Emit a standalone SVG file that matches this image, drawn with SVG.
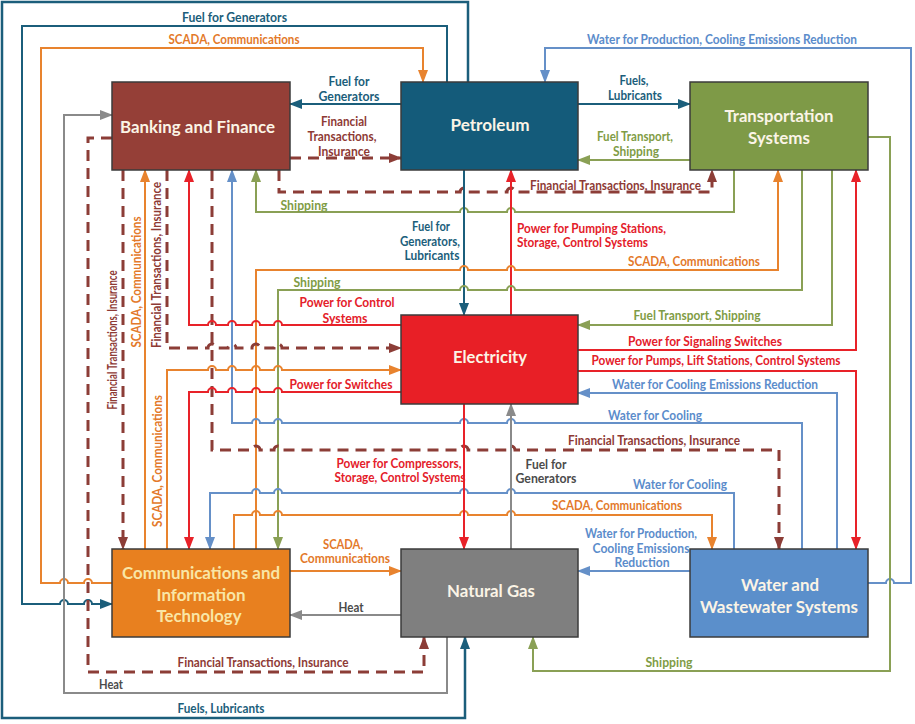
<svg xmlns="http://www.w3.org/2000/svg" width="915" height="724" viewBox="0 0 915 724">
<style>
.ln{fill:none;stroke-width:2}
.teal{stroke:#1b5e7b}
.org{stroke:#e8832e}
.gry{stroke:#8a8a8a}
.brn{stroke:#8c3d37;stroke-width:3;stroke-dasharray:11 7}
.red{stroke:#e82229}
.blu{stroke:#6590c8}
.grn{stroke:#8aa055}
text{font-family:Lato,"Liberation Sans",sans-serif;font-weight:bold}
.l{font-size:12.5px;text-anchor:middle}
.s{font-size:12.5px;text-anchor:start}
.tt{fill:#1b5e7b}.to{fill:#e3792a}.tb{fill:#8e3a35}.tr{fill:#e4202a}.tu{fill:#5b8ccb}.tg{fill:#7f9c45}.tk{fill:#4b4b4b}
.node rect{stroke:#3b3b3b;stroke-width:1.5}
.node text{font-size:17.5px;fill:#fbf4e6;text-anchor:middle}
</style>
<defs>
<marker id="aT" markerUnits="userSpaceOnUse" markerWidth="13" markerHeight="10" refX="12" refY="5" orient="auto"><path d="M0,0L13,5L0,10z" fill="#1b5e7b"/></marker>
<marker id="aO" markerUnits="userSpaceOnUse" markerWidth="13" markerHeight="10" refX="12" refY="5" orient="auto"><path d="M0,0L13,5L0,10z" fill="#e8832e"/></marker>
<marker id="aK" markerUnits="userSpaceOnUse" markerWidth="13" markerHeight="10" refX="12" refY="5" orient="auto"><path d="M0,0L13,5L0,10z" fill="#8a8a8a"/></marker>
<marker id="aB" markerUnits="userSpaceOnUse" markerWidth="13" markerHeight="10" refX="12" refY="5" orient="auto"><path d="M0,0L13,5L0,10z" fill="#8c3d37"/></marker>
<marker id="aR" markerUnits="userSpaceOnUse" markerWidth="13" markerHeight="10" refX="12" refY="5" orient="auto"><path d="M0,0L13,5L0,10z" fill="#e82229"/></marker>
<marker id="aU" markerUnits="userSpaceOnUse" markerWidth="13" markerHeight="10" refX="12" refY="5" orient="auto"><path d="M0,0L13,5L0,10z" fill="#6590c8"/></marker>
<marker id="aG" markerUnits="userSpaceOnUse" markerWidth="13" markerHeight="10" refX="12" refY="5" orient="auto"><path d="M0,0L13,5L0,10z" fill="#8aa055"/></marker>
</defs>
<rect width="915" height="724" fill="#ffffff"/>
<g id="connectors">
<path class="ln teal" style="stroke-width:2.5" d="M468,82V2H2V718H465V637" marker-end="url(#aT)"/>
<path class="ln teal" d="M447,82V26H22V604H60A4,4 0 0 1 68,604H84A4,4 0 0 1 92,604H112" marker-end="url(#aT)"/>
<path class="ln org" d="M112,583H92A4,4 0 0 0 84,583H68A4,4 0 0 0 60,583H41V48H423V82" marker-end="url(#aO)"/>
<path class="ln blu" d="M868,583H886A4,4 0 0 1 894,583H911V48H545V82" marker-end="url(#aU)"/>
<path class="ln gry" d="M447,637V693H64V115H112" marker-end="url(#aK)"/>
<path class="ln brn" d="M112,138H88V672H424V637" marker-end="url(#aB)"/>
<path class="ln teal" d="M401,104H290" marker-end="url(#aT)"/>
<path class="ln brn" d="M290,158H401" marker-end="url(#aB)"/>
<path class="ln teal" d="M578,104H690" marker-end="url(#aT)"/>
<path class="ln grn" d="M690,160H578" marker-end="url(#aG)"/>
<path class="ln brn" d="M279,170V192H460A4,4 0 0 1 468,192H507A4,4 0 0 1 515,192H712V170" marker-end="url(#aB)"/>
<path class="ln grn" d="M734,170V212H515A4,4 0 0 0 507,212H468A4,4 0 0 0 460,212H256V170" marker-end="url(#aG)"/>
<path class="ln teal" d="M464,170V315" marker-end="url(#aT)"/>
<path class="ln red" d="M511,315V170" marker-end="url(#aR)"/>
<path class="ln org" d="M256,549V270H460A4,4 0 0 1 468,270H507A4,4 0 0 1 515,270H778V170" marker-end="url(#aO)"/>
<path class="ln grn" d="M802,170V290H515A4,4 0 0 0 507,290H468A4,4 0 0 0 460,290H278V549" marker-end="url(#aG)"/>
<path class="ln grn" d="M832,170V325H578" marker-end="url(#aG)"/>
<path class="ln red" d="M578,350H856V170" marker-end="url(#aR)"/>
<path class="ln red" d="M578,371H856V549" marker-end="url(#aR)"/>
<path class="ln blu" d="M837,549V393H578" marker-end="url(#aU)"/>
<path class="ln blu" d="M802,549V423H515A4,4 0 0 0 507,423H468A4,4 0 0 0 460,423H282A4,4 0 0 0 274,423H260A4,4 0 0 0 252,423H232V170" marker-end="url(#aU)"/>
<path class="ln brn" d="M212,170V450H252A4,4 0 0 1 260,450H274A4,4 0 0 1 282,450H460A4,4 0 0 1 468,450H507A4,4 0 0 1 515,450H779V549" marker-end="url(#aB)"/>
<path class="ln blu" d="M734,549V493H515A4,4 0 0 0 507,493H468A4,4 0 0 0 460,493H282A4,4 0 0 0 274,493H260A4,4 0 0 0 252,493H210V549" marker-end="url(#aU)"/>
<path class="ln org" d="M234,549V515H252A4,4 0 0 1 260,515H274A4,4 0 0 1 282,515H460A4,4 0 0 1 468,515H507A4,4 0 0 1 515,515H712V549" marker-end="url(#aO)"/>
<path class="ln blu" d="M690,571H578" marker-end="url(#aU)"/>
<path class="ln red" d="M464,404V549" marker-end="url(#aR)"/>
<path class="ln gry" d="M511,549V404" marker-end="url(#aK)"/>
<path class="ln org" d="M290,571H401" marker-end="url(#aO)"/>
<path class="ln gry" d="M401,615H290" marker-end="url(#aK)"/>
<path class="ln red" d="M401,325H282A4,4 0 0 0 274,325H260A4,4 0 0 0 252,325H236A4,4 0 0 0 228,325H216A4,4 0 0 0 208,325H189V170" marker-end="url(#aR)"/>
<path class="ln brn" d="M167,170V348H208A4,4 0 0 1 216,348H228A4,4 0 0 1 236,348H252A4,4 0 0 1 260,348H274A4,4 0 0 1 282,348H401" marker-end="url(#aB)"/>
<path class="ln org" d="M167,549V370H208A4,4 0 0 1 216,370H228A4,4 0 0 1 236,370H252A4,4 0 0 1 260,370H274A4,4 0 0 1 282,370H401" marker-end="url(#aO)"/>
<path class="ln red" d="M401,392H282A4,4 0 0 0 274,392H260A4,4 0 0 0 252,392H236A4,4 0 0 0 228,392H216A4,4 0 0 0 208,392H189V549" marker-end="url(#aR)"/>
<path class="ln org" d="M145,549V170" marker-end="url(#aO)"/>
<path class="ln brn" d="M123,170V549" marker-end="url(#aB)"/>
<path class="ln grn" d="M868,137H890V671H533V637" marker-end="url(#aG)"/>
</g>
<g id="connector-labels">
<text class="l tt" x="234.5" y="22" textLength="105" lengthAdjust="spacingAndGlyphs">Fuel for Generators</text>
<text class="l to" x="234" y="44" textLength="131" lengthAdjust="spacingAndGlyphs">SCADA, Communications</text>
<text class="l tu" x="722" y="44" textLength="270" lengthAdjust="spacingAndGlyphs">Water for Production, Cooling Emissions Reduction</text>
<text class="l tt" x="349" y="86" textLength="41" lengthAdjust="spacingAndGlyphs">Fuel for</text>
<text class="l tt" x="349" y="101" textLength="61" lengthAdjust="spacingAndGlyphs">Generators</text>
<text class="l tb" x="344" y="126" textLength="46" lengthAdjust="spacingAndGlyphs">Financial</text>
<text class="l tb" x="342" y="141" textLength="69" lengthAdjust="spacingAndGlyphs">Transactions,</text>
<text class="l tb" x="344" y="156" textLength="52" lengthAdjust="spacingAndGlyphs">Insurance</text>
<text class="l tt" x="634" y="85" textLength="29" lengthAdjust="spacingAndGlyphs">Fuels,</text>
<text class="l tt" x="635" y="100" textLength="54" lengthAdjust="spacingAndGlyphs">Lubricants</text>
<text class="l tg" x="635" y="141" textLength="76" lengthAdjust="spacingAndGlyphs">Fuel Transport,</text>
<text class="l tg" x="636" y="156" textLength="46" lengthAdjust="spacingAndGlyphs">Shipping</text>
<text class="l tb" x="615.5" y="190" textLength="171" lengthAdjust="spacingAndGlyphs">Financial Transactions, Insurance</text>
<text class="l tg" x="304" y="210" textLength="47" lengthAdjust="spacingAndGlyphs">Shipping</text>
<text class="l tt" x="431" y="231" textLength="38" lengthAdjust="spacingAndGlyphs">Fuel for</text>
<text class="l tt" x="430" y="246" textLength="60" lengthAdjust="spacingAndGlyphs">Generators,</text>
<text class="l tt" x="432" y="260" textLength="55" lengthAdjust="spacingAndGlyphs">Lubricants</text>
<text class="s tr" x="517" y="233" textLength="149" lengthAdjust="spacingAndGlyphs">Power for Pumping Stations,</text>
<text class="s tr" x="517" y="247" textLength="131" lengthAdjust="spacingAndGlyphs">Storage, Control Systems</text>
<text class="l to" x="694" y="266" textLength="132" lengthAdjust="spacingAndGlyphs">SCADA, Communications</text>
<text class="l tg" x="317" y="287" textLength="47" lengthAdjust="spacingAndGlyphs">Shipping</text>
<text class="l tr" x="347" y="307" textLength="95" lengthAdjust="spacingAndGlyphs">Power for Control</text>
<text class="l tr" x="345" y="323" textLength="45" lengthAdjust="spacingAndGlyphs">Systems</text>
<text class="l tg" x="697" y="320" textLength="127" lengthAdjust="spacingAndGlyphs">Fuel Transport, Shipping</text>
<text class="l tr" x="705" y="346" textLength="154" lengthAdjust="spacingAndGlyphs">Power for Signaling Switches</text>
<text class="l tr" x="716" y="365" textLength="249" lengthAdjust="spacingAndGlyphs">Power for Pumps, Lift Stations, Control Systems</text>
<text class="l tu" x="715" y="389" textLength="206" lengthAdjust="spacingAndGlyphs">Water for Cooling Emissions Reduction</text>
<text class="l tr" x="341" y="389" textLength="103" lengthAdjust="spacingAndGlyphs">Power for Switches</text>
<text class="l tu" x="655" y="420" textLength="94" lengthAdjust="spacingAndGlyphs">Water for Cooling</text>
<text class="l tb" x="654" y="445" textLength="172" lengthAdjust="spacingAndGlyphs">Financial Transactions, Insurance</text>
<text class="l tr" x="399" y="468" textLength="125" lengthAdjust="spacingAndGlyphs">Power for Compressors,</text>
<text class="l tr" x="400" y="482" textLength="131" lengthAdjust="spacingAndGlyphs">Storage, Control Systems</text>
<text class="l tk" x="546" y="469" textLength="41" lengthAdjust="spacingAndGlyphs">Fuel for</text>
<text class="l tk" x="546" y="483" textLength="61" lengthAdjust="spacingAndGlyphs">Generators</text>
<text class="l tu" x="680" y="489" textLength="94" lengthAdjust="spacingAndGlyphs">Water for Cooling</text>
<text class="l to" x="617" y="510" textLength="130" lengthAdjust="spacingAndGlyphs">SCADA, Communications</text>
<text class="l tu" x="641" y="538" textLength="112" lengthAdjust="spacingAndGlyphs">Water for Production,</text>
<text class="l tu" x="641" y="553" textLength="97" lengthAdjust="spacingAndGlyphs">Cooling Emissions</text>
<text class="l tu" x="642" y="567" textLength="55" lengthAdjust="spacingAndGlyphs">Reduction</text>
<text class="l to" x="343" y="549" textLength="40" lengthAdjust="spacingAndGlyphs">SCADA,</text>
<text class="l to" x="345" y="563" textLength="90" lengthAdjust="spacingAndGlyphs">Communications</text>
<text class="l tk" x="351" y="612" textLength="25" lengthAdjust="spacingAndGlyphs">Heat</text>
<text class="l tb" x="263" y="667" textLength="171" lengthAdjust="spacingAndGlyphs">Financial Transactions, Insurance</text>
<text class="l tg" x="669" y="667" textLength="47" lengthAdjust="spacingAndGlyphs">Shipping</text>
<text class="l tk" x="111" y="689" textLength="24" lengthAdjust="spacingAndGlyphs">Heat</text>
<text class="l tt" x="221" y="713" textLength="87" lengthAdjust="spacingAndGlyphs">Fuels, Lubricants</text>
<text class="l tb" transform="translate(116.5,340) rotate(-90)" textLength="139" lengthAdjust="spacingAndGlyphs">Financial Transactions, Insurance</text>
<text class="l to" transform="translate(140.5,282) rotate(-90)" textLength="131" lengthAdjust="spacingAndGlyphs">SCADA, Communications</text>
<text class="l tb" transform="translate(161,265) rotate(-90)" textLength="166" lengthAdjust="spacingAndGlyphs">Financial Transactions, Insurance</text>
<text class="l to" transform="translate(161.5,461) rotate(-90)" textLength="132" lengthAdjust="spacingAndGlyphs">SCADA, Communications</text>
</g>
<g id="banking" class="node"><rect x="112" y="82" width="178" height="88" fill="#953f37"/><text x="197.5" y="133" textLength="155" lengthAdjust="spacingAndGlyphs">Banking and Finance</text></g>
<g id="petroleum" class="node"><rect x="401" y="82" width="177" height="88" fill="#145b7a"/><text x="490" y="131" textLength="79" lengthAdjust="spacingAndGlyphs">Petroleum</text></g>
<g id="transportation" class="node"><rect x="690" y="82" width="178" height="88" fill="#7e9a47"/><text x="779" y="122" textLength="109" lengthAdjust="spacingAndGlyphs">Transportation</text><text x="779" y="144" textLength="62" lengthAdjust="spacingAndGlyphs">Systems</text></g>
<g id="electricity" class="node"><rect x="401" y="315" width="177" height="89" fill="#e81f26"/><text x="490" y="363" textLength="74" lengthAdjust="spacingAndGlyphs">Electricity</text></g>
<g id="communications" class="node"><rect x="112" y="549" width="178" height="88" fill="#e8801f"/><text x="201" y="579" textLength="158" lengthAdjust="spacingAndGlyphs" style="fill:#f9e6a6">Communications and</text><text x="201" y="601" textLength="89" lengthAdjust="spacingAndGlyphs" style="fill:#f9e6a6">Information</text><text x="199" y="622" textLength="85" lengthAdjust="spacingAndGlyphs" style="fill:#f9e6a6">Technology</text></g>
<g id="natural-gas" class="node"><rect x="401" y="549" width="177" height="88" fill="#7f7f7f"/><text x="491" y="597" textLength="88" lengthAdjust="spacingAndGlyphs">Natural Gas</text></g>
<g id="water" class="node"><rect x="690" y="549" width="178" height="88" fill="#5b8fcb"/><text x="780" y="591" textLength="78" lengthAdjust="spacingAndGlyphs">Water and</text><text x="779" y="613" textLength="158" lengthAdjust="spacingAndGlyphs">Wastewater Systems</text></g>
</svg>
